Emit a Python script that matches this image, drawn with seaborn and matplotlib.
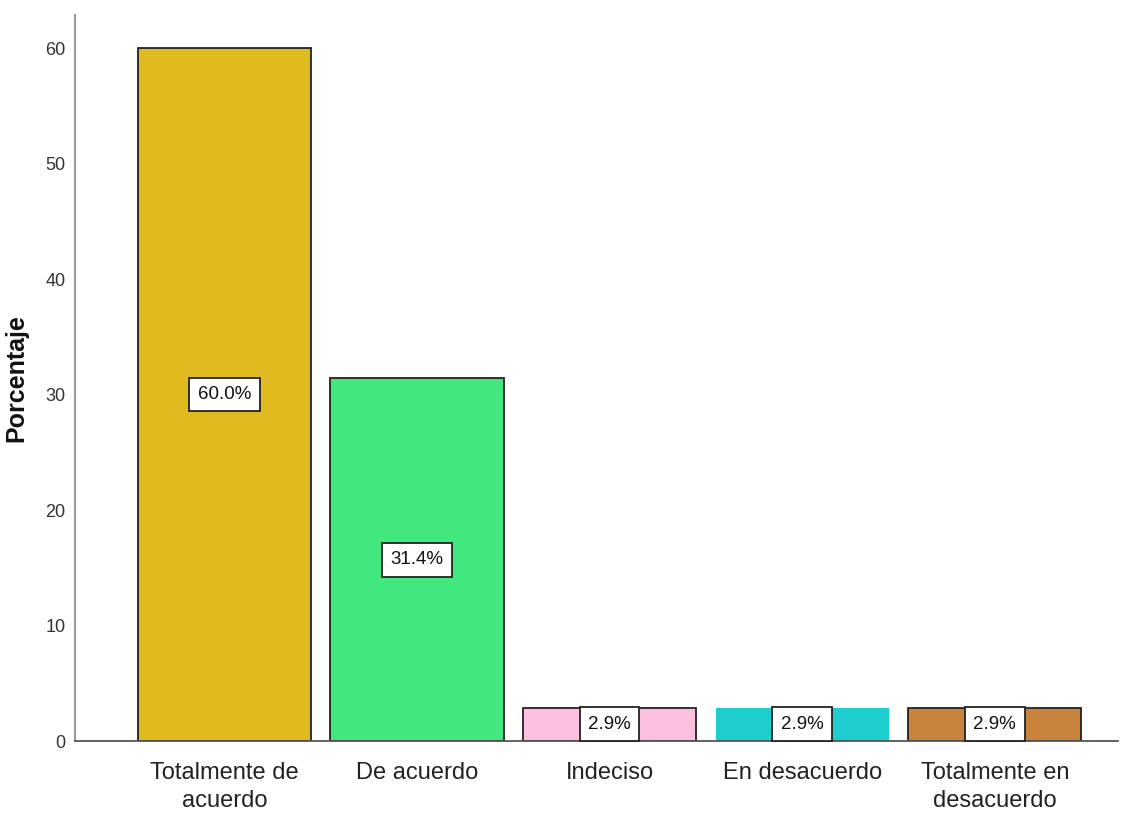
import pandas as pd
import numpy as np
import matplotlib
matplotlib.use('Agg')
import matplotlib.pyplot as plt
import seaborn as sns

# datos
categorias = ['Totalmente de\nacuerdo', 'De acuerdo', 'Indeciso', 'En desacuerdo', 'Totalmente en\ndesacuerdo']
porcentajes = [60.0, 31.4, 2.9, 2.9, 2.9]
etiquetas = ['60.0%', '31.4%', '2.9%', '2.9%', '2.9%']
colores = ['#E0BB1F', '#42E87E', '#FDC0E0', '#1ECECE', '#C8833D']
bordes = ['#222222', '#222222', '#222222', 'none', '#222222']

sns.set_style('white')
plt.rcParams['font.family'] = ['Liberation Sans', 'DejaVu Sans']

df = pd.DataFrame({'cat': categorias, 'pct': porcentajes})

fig = plt.figure(figsize=(11.31, 8.23), dpi=100)
ax = fig.add_axes([0.0663, 0.0996, 0.9222, 0.8822])

sns.barplot(data=df, x='cat', y='pct', hue='cat', palette=colores, legend=False,
            width=0.9, saturation=1, ax=ax)

for p, ec in zip(ax.patches, bordes):
    if ec == 'none':
        p.set_edgecolor(p.get_facecolor())
        p.set_linewidth(0)
    else:
        p.set_edgecolor(ec)
        p.set_linewidth(1.3)

# cajas de porcentaje a media altura
for i, (v, t) in enumerate(zip(porcentajes, etiquetas)):
    ax.text(i, v / 2, t, ha='center', va='center', fontsize=13.5, color='#111111',
            bbox=dict(boxstyle='square,pad=0.45', fc='white', ec='#222222', lw=1.3),
            zorder=5, clip_on=False)

ax.set_xlim(-0.777, 4.64)
ax.set_ylim(0, 62.86)
ax.set_yticks([0, 10, 20, 30, 40, 50, 60])
ax.tick_params(axis='y', labelsize=13, length=0, pad=7, labelcolor='#333333')
ax.tick_params(axis='x', labelsize=17, length=0, pad=15, labelcolor='#222222')
for lab in ax.get_xticklabels():
    lab.set_linespacing(1.35)
ax.set_xlabel('')
ax.set_ylabel('Porcentaje', fontsize=18, fontweight='bold',
              labelpad=12, color='#111111')

sns.despine(ax=ax)
ax.spines['left'].set_color('#999999')
ax.spines['left'].set_linewidth(1.5)
ax.spines['bottom'].set_color('#555555')
ax.spines['bottom'].set_linewidth(1.3)

plt.savefig('out.png', dpi=100)
